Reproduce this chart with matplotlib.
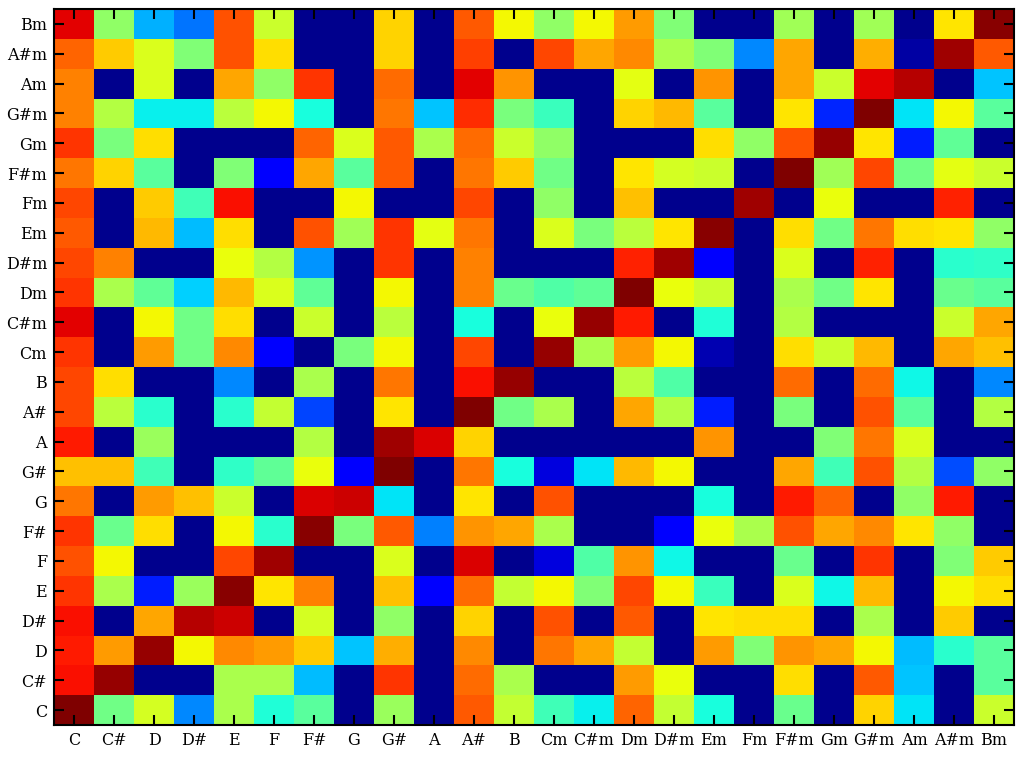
import numpy as np
import matplotlib
matplotlib.use('Agg')
import matplotlib.pyplot as plt

# chord labels, bottom row / left column first
chords = ['C', 'C#', 'D', 'D#', 'E', 'F', 'F#', 'G', 'G#', 'A', 'A#', 'B',
          'Cm', 'C#m', 'Dm', 'D#m', 'Em', 'Fm', 'F#m', 'Gm', 'G#m', 'Am', 'A#m', 'Bm']

# cell values (0..1 on jet), one row per chord, from C (bottom) up to Bm (top)
values = [
    [1.00, 0.48, 0.60, 0.25, 0.55, 0.38, 0.45, 0, 0.53, 0, 0.81, 0.58, 0.42, 0.35, 0.80, 0.58, 0.37, 0, 0.47, 0, 0.68, 0.34, 0, 0.59],  # C
    [0.89, 0.98, 0, 0, 0.55, 0.55, 0.30, 0, 0.85, 0, 0.79, 0.55, 0, 0, 0.74, 0.63, 0, 0, 0.67, 0, 0.81, 0.31, 0, 0.45],  # C#
    [0.88, 0.74, 0.98, 0.64, 0.76, 0.74, 0.69, 0.31, 0.72, 0, 0.76, 0, 0.78, 0.73, 0.58, 0, 0.74, 0.50, 0.75, 0.73, 0.64, 0.30, 0.39, 0.45],  # D
    [0.89, 0, 0.73, 0.95, 0.93, 0, 0.60, 0, 0.52, 0, 0.68, 0, 0.82, 0, 0.81, 0, 0.66, 0.67, 0.67, 0, 0.55, 0, 0.69, 0],  # D#
    [0.85, 0.55, 0.14, 0.53, 0.99, 0.66, 0.77, 0, 0.70, 0.10, 0.79, 0.58, 0.64, 0.50, 0.83, 0.64, 0.41, 0, 0.61, 0.36, 0.71, 0, 0.64, 0.67],  # E
    [0.82, 0.64, 0, 0, 0.83, 0.97, 0, 0, 0.61, 0, 0.92, 0, 0.07, 0.44, 0.75, 0.36, 0, 0, 0.47, 0, 0.85, 0, 0.50, 0.69],  # F
    [0.85, 0.47, 0.67, 0, 0.64, 0.39, 0.99, 0.49, 0.81, 0.24, 0.75, 0.73, 0.55, 0, 0, 0.10, 0.63, 0.55, 0.82, 0.73, 0.76, 0.66, 0.52, 0],  # F#
    [0.78, 0, 0.74, 0.70, 0.59, 0, 0.92, 0.93, 0.34, 0, 0.66, 0, 0.82, 0, 0, 0, 0.37, 0, 0.88, 0.80, 0, 0.52, 0.88, 0],  # G
    [0.70, 0.70, 0.42, 0, 0.40, 0.46, 0.63, 0.11, 1.00, 0, 0.78, 0.37, 0.07, 0.34, 0.71, 0.64, 0, 0, 0.73, 0.42, 0.82, 0.56, 0.19, 0.52],  # G#
    [0.88, 0, 0.53, 0, 0, 0, 0.56, 0, 0.97, 0.92, 0.68, 0, 0, 0, 0, 0, 0.75, 0, 0, 0.50, 0.78, 0.61, 0, 0],  # A
    [0.83, 0.57, 0.39, 0, 0.39, 0.58, 0.18, 0, 0.66, 0, 1.00, 0.48, 0.55, 0, 0.73, 0.56, 0.14, 0, 0.49, 0, 0.82, 0.45, 0, 0.56],  # A#
    [0.83, 0.67, 0, 0, 0.25, 0, 0.55, 0, 0.78, 0, 0.89, 0.98, 0, 0, 0.57, 0.44, 0, 0, 0.79, 0, 0.79, 0.36, 0, 0.25],  # B
    [0.85, 0, 0.74, 0.48, 0.76, 0.10, 0, 0.49, 0.64, 0, 0.83, 0, 0.98, 0.55, 0.74, 0.64, 0.03, 0, 0.67, 0.59, 0.71, 0, 0.73, 0.70],  # Cm
    [0.91, 0, 0.64, 0.48, 0.67, 0, 0.59, 0, 0.57, 0, 0.37, 0, 0.63, 0.98, 0.88, 0, 0.38, 0, 0.56, 0, 0, 0, 0.59, 0.73],  # C#m
    [0.85, 0.55, 0.46, 0.32, 0.71, 0.61, 0.46, 0, 0.64, 0, 0.77, 0.47, 0.44, 0.46, 1.00, 0.63, 0.59, 0, 0.55, 0.48, 0.66, 0, 0.47, 0.45],  # Dm
    [0.83, 0.77, 0, 0, 0.63, 0.56, 0.26, 0, 0.85, 0, 0.77, 0, 0, 0, 0.87, 0.97, 0.11, 0, 0.61, 0, 0.87, 0, 0.39, 0.40],  # D#m
    [0.81, 0, 0.71, 0.30, 0.67, 0, 0.82, 0.54, 0.85, 0.62, 0.78, 0, 0.61, 0.49, 0.57, 0.66, 0.99, 0, 0.67, 0.48, 0.78, 0.67, 0.66, 0.52],  # Em
    [0.83, 0, 0.69, 0.42, 0.89, 0, 0, 0.64, 0, 0, 0.83, 0, 0.52, 0, 0.70, 0, 0, 0.97, 0, 0.63, 0, 0, 0.87, 0],  # Fm
    [0.78, 0.68, 0.45, 0, 0.50, 0.10, 0.73, 0.45, 0.81, 0, 0.78, 0.69, 0.48, 0, 0.66, 0.60, 0.59, 0, 1.00, 0.54, 0.83, 0.48, 0.62, 0.59],  # F#m
    [0.85, 0.49, 0.67, 0, 0, 0, 0.80, 0.61, 0.81, 0.55, 0.79, 0.59, 0.52, 0, 0, 0, 0.67, 0.52, 0.82, 0.98, 0.66, 0.14, 0.46, 0],  # Gm
    [0.77, 0.56, 0.35, 0.35, 0.57, 0.64, 0.37, 0, 0.78, 0.31, 0.86, 0.49, 0.41, 0, 0.68, 0.71, 0.45, 0, 0.66, 0.15, 1.00, 0.34, 0.64, 0.45],  # G#m
    [0.77, 0, 0.61, 0, 0.73, 0.52, 0.85, 0, 0.79, 0, 0.91, 0.75, 0, 0, 0.62, 0, 0.75, 0, 0.73, 0.59, 0.91, 0.95, 0, 0.31],  # Am
    [0.80, 0.69, 0.61, 0.50, 0.82, 0.67, 0, 0, 0.68, 0, 0.84, 0, 0.83, 0.73, 0.76, 0.55, 0.50, 0.25, 0.73, 0, 0.72, 0.02, 0.97, 0.81],  # A#m
    [0.91, 0.52, 0.29, 0.23, 0.82, 0.59, 0, 0, 0.68, 0, 0.81, 0.64, 0.52, 0.64, 0.74, 0.50, 0, 0, 0.54, 0, 0.54, 0, 0.66, 0.99],  # Bm
]

fig = plt.figure(figsize=(10.24, 7.59), dpi=100)
ax = fig.add_axes([54/1024, 34/759, 960/1024, 716/759])

# vmin a bit below 0 so empty cells come out as MATLAB's navy
ax.imshow(np.array(values), cmap='jet', vmin=-0.015, vmax=1.0,
          origin='lower', aspect='auto', interpolation='nearest')

ax.set_xticks(range(len(chords)))
ax.set_yticks(range(len(chords)))
ax.set_xticklabels(chords, family='DejaVu Serif', fontsize=11.5)
ax.set_yticklabels(chords, family='DejaVu Serif', fontsize=11.5)
ax.tick_params(direction='in', length=7, width=1.5, top=True, right=True,
               labeltop=False, labelright=False, pad=5)
for s in ax.spines.values():
    s.set_linewidth(1.5)

plt.savefig('out.png', dpi=100)
